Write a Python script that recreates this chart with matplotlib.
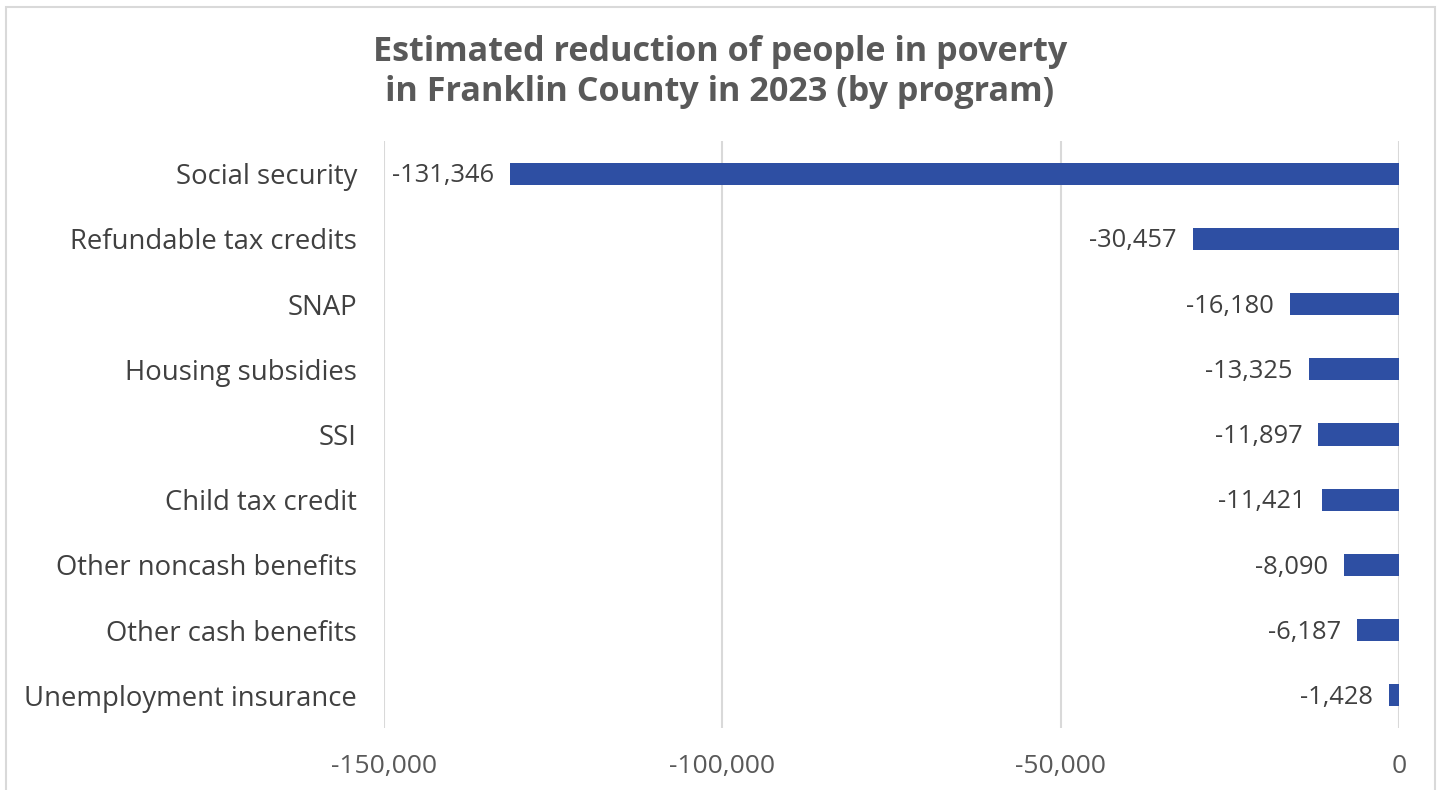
import matplotlib
matplotlib.use("Agg")
import matplotlib.pyplot as plt
from matplotlib.patches import Rectangle
from matplotlib.ticker import FuncFormatter

plt.rcParams['font.family'] = ['Open Sans', 'DejaVu Sans']

programs = [
    "Social security",
    "Refundable tax credits",
    "SNAP",
    "Housing subsidies",
    "SSI",
    "Child tax credit",
    "Other noncash benefits",
    "Other cash benefits",
    "Unemployment insurance",
]
reduction = [-131346, -30457, -16180, -13325, -11897, -11421, -8090, -6187, -1428]
x_ticks = [-150000, -100000, -50000, 0]

bar_color = "#2E4FA3"
label_color = "#404040"
tick_color = "#595959"
grid_color = "#D9D9D9"

fig = plt.figure(figsize=(14.4, 7.9), dpi=100)
fig.patch.set_facecolor("white")

# light frame around the chart
fig.add_artist(Rectangle((6 / 1440, -0.01), 1429 / 1440, 1 - 7 / 790 + 0.01,
                         transform=fig.transFigure, fill=False,
                         edgecolor="#D9D9D9", linewidth=1.5))

ax = fig.add_axes([384 / 1440, 1 - 728 / 790, (1399 - 384) / 1440, (728 - 141) / 790])

ypos = list(range(len(programs)))
ax.barh(ypos, reduction, height=0.34, color=bar_color, zorder=3)

ax.set_xlim(-150000, 0)
ax.set_ylim(len(programs) - 0.5, -0.5)
ax.set_xticks(x_ticks)
ax.xaxis.set_major_formatter(FuncFormatter(lambda v, p: f"{int(v):,}"))
ax.set_yticks(ypos)
ax.set_yticklabels(programs)

ax.grid(axis="x", color=grid_color, linewidth=1.5, zorder=0)
ax.grid(axis="y", visible=False)
for s in ax.spines.values():
    s.set_visible(False)

ax.tick_params(axis="y", length=0, pad=19.5, labelsize=19.8, labelcolor=label_color)
ax.tick_params(axis="x", length=0, pad=19, labelsize=19, labelcolor=tick_color)

for y, v in zip(ypos, reduction):
    ax.annotate(f"{v:,}", xy=(v, y), xytext=(-11.5, -1.5), textcoords="offset points",
                ha="right", va="center", fontsize=18.4, color=label_color)

fig.text(0.5, 1 - 72 / 790,
         "Estimated reduction of people in poverty\nin Franklin County in 2023 (by program)",
         ha="center", va="center", fontsize=24.6, fontweight="bold",
         color=tick_color, linespacing=1.25)

fig.savefig("out.png", dpi=100, facecolor="white")
